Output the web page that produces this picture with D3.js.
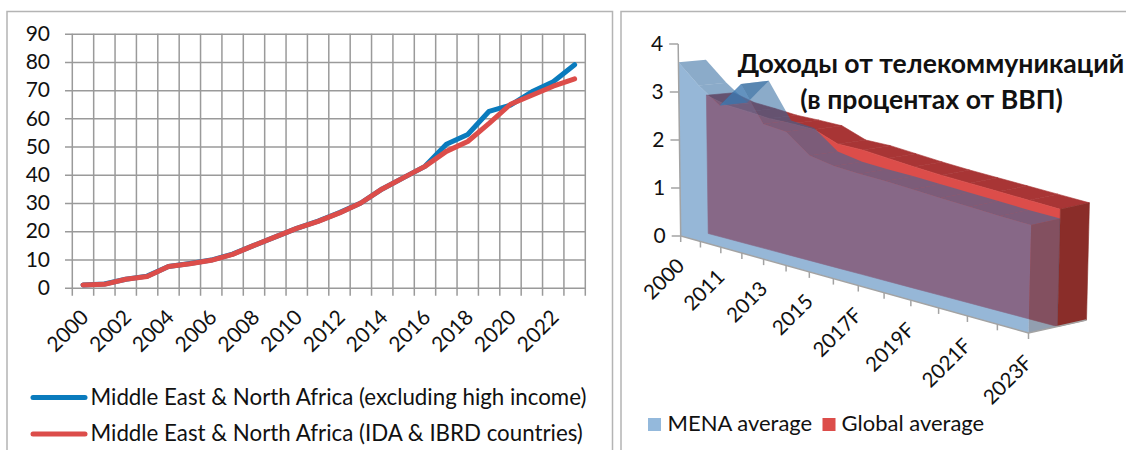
<!DOCTYPE html>
<html>
<head>
<meta charset="utf-8">
<script src="https://cdn.jsdelivr.net/npm/d3@7"></script>
<style>
  body { margin: 0; background: #fff; }
  svg { display: block; }
  text { font-family: Lato, "Noto Sans", sans-serif; fill: #111; }
</style>
</head>
<body>
<svg id="chart" width="1126" height="450"></svg>
<script>
// left chart data
const years = d3.range(2000, 2024);
const yearLabels = years.filter((y) => y % 2 === 0);
const yTicksLeft = d3.range(0, 100, 10);
const exclHighIncome = [1, 1.3, 3, 4.1, 7.5, 8.6, 9.8, 11.9, 15, 18, 21, 23.6, 26.6, 30, 35, 39, 43, 50.8, 54.3, 62.5, 64.7, 69.4, 73, 79];
const idaIbrd = [1, 1.2, 3, 4, 7.5, 8.5, 9.7, 11.8, 15, 18, 21, 23.5, 26.5, 30, 35, 39, 43, 48.3, 51.8, 58.2, 65, 68.2, 71.4, 74];
const leftLegend = ["Middle East & North Africa (excluding high income)", "Middle East & North Africa (IDA & IBRD countries)"];

// right chart data
const periods = ["2000", "2010", "2011", "2012", "2013", "2014", "2015", "2016", "2017F", "2018F", "2019F", "2020F", "2021F", "2022F", "2023F"];
const menaAverage = [3.62, 3.2, 2.86, 3.36, 2.64, 2.57, 2.2, 2.09, 2.04, 2.0, 1.95, 1.9, 1.85, 1.8, 1.76];
const globalAverage = [2.88, 2.74, 2.68, 2.61, 2.58, 2.54, 2.34, 2.31, 2.24, 2.17, 2.11, 2.06, 2.01, 1.96, 1.91];
const yTicksRight = [0, 1, 2, 3, 4];
const titleLines = ["Доходы от телекоммуникаций", "(в процентах от ВВП)"];

const svg = d3.select("#chart");
const gridColor = "#9a9a9a";
const blueLine = "#0a7bbd";
const redLine = "#dc4d4a";

// panel frames
svg.append("path").attr("d", "M7,450V11.5H612.5V450").attr("fill", "none").attr("stroke", "#b4b4b4").attr("stroke-width", 1.5);
svg.append("path").attr("d", "M621,450V11.5H1126").attr("fill", "none").attr("stroke", "#b4b4b4").attr("stroke-width", 1.5);

// ---- left line chart ----
const x = d3.scaleBand().domain(years).range([72.3, 585.3]);
const y = d3.scaleLinear().domain([0, 90]).range([287.7, 33.7]);
const left = svg.append("g");

// horizontal grid
left.append("g")
  .attr("transform", "translate(65,0)")
  .call(d3.axisLeft(y).tickValues(yTicksLeft).tickSize(-520).tickPadding(15))
  .call((g) => g.select(".domain").remove())
  .call((g) => g.selectAll("line").attr("stroke", gridColor).attr("stroke-width", 1.5))
  .call((g) => g.selectAll("text").attr("font-size", 21).style("font-family", "Lato"));

// vertical grid at band edges
left.append("g").selectAll("line")
  .data(years.concat(2024))
  .join("line")
  .attr("x1", (d, i) => x.range()[0] + i * x.step())
  .attr("x2", (d, i) => x.range()[0] + i * x.step())
  .attr("y1", y(90))
  .attr("y2", y(0) + 8)
  .attr("stroke", gridColor)
  .attr("stroke-width", 1.5);

const line = d3.line().x((d, i) => x(years[i]) + x.bandwidth() / 2).y((d) => y(d));
[[exclHighIncome, blueLine], [idaIbrd, redLine]].forEach(([values, color]) => {
  left.append("path")
    .attr("d", line(values))
    .attr("fill", "none")
    .attr("stroke", color)
    .attr("stroke-width", 5)
    .attr("stroke-linecap", "round")
    .attr("stroke-linejoin", "round");
});

left.selectAll(".year")
  .data(yearLabels)
  .join("text")
  .attr("class", "year")
  .attr("text-anchor", "end")
  .attr("font-size", 21)
  .attr("transform", (d) => `translate(${x(d) + x.bandwidth() / 2 + 7},${y(0) + 31}) rotate(-45)`)
  .text((d) => d);

leftLegend.forEach((label, i) => {
  const ly = 397.5 + i * 36.5;
  left.append("line")
    .attr("x1", 33).attr("x2", 85).attr("y1", ly).attr("y2", ly)
    .attr("stroke", i === 0 ? blueLine : redLine)
    .attr("stroke-width", 5)
    .attr("stroke-linecap", "round");
  left.append("text").attr("x", 90.5).attr("y", ly + 7).attr("font-size", 22.3).text(label);
});

// ---- right 3D area chart ----
const persp = 0.278;
const tScale = d3.scaleLinear().domain([0, periods.length - 1]).range([0, 1]);
const along = (i) => { const t = tScale(i); return t / (1 + persp * (1 - t)); };
const unitHeight = (i) => { const t = tScale(i); return 48 * (1 + persp) / (1 + persp * (1 - t)); };
const floorX = d3.scaleLinear().domain([0, 1]).range([680.7, 1028.5]);
const floorY = d3.scaleLinear().domain([0, 1]).range([236, 333]);
const depthX = d3.scaleLinear().domain([0, 1]).range([55, 58]);
const depthY = d3.scaleLinear().domain([0, 1]).range([-5, -13]);
const lean = d3.scaleLinear().domain([0, 1]).range([-0.63, 1.53]);

// category index, value, depth (0 front .. 1 back) to screen
function project(i, v, depth) {
  const u = along(i);
  return [
    floorX(u) + depthX(u) * depth + lean(u) * v,
    floorY(u) + depthY(u) * depth - unitHeight(i) * v,
  ];
}

const right = svg.append("g");
const poly = (pts, fill, opacity) => {
  const p = right.append("polygon").attr("points", pts.map((q) => q.join(",")).join(" ")).attr("fill", fill).attr("fill-opacity", opacity);
  // opaque faces get a hairline so the seams between quads do not show
  if (opacity === 1) p.attr("stroke", fill).attr("stroke-width", 0.6);
};

function drawSlab(values, d0, d1, colors, opacity) {
  const last = values.length - 1;
  // top faces
  d3.pairs(d3.range(values.length)).forEach(([a, b]) => {
    poly([project(a, values[a], d0), project(b, values[b], d0), project(b, values[b], d1), project(a, values[a], d1)], colors.top, opacity);
  });
  // front face
  const front = values.map((v, i) => project(i, v, d0));
  const base = values.map((v, i) => project(i, 0, d0)).reverse();
  poly(front.concat(base), colors.front, opacity);
  // right end
  poly([project(last, values[last], d0), project(last, values[last], d1), project(last, 0, d1), project(last, 0, d0)], colors.side, opacity);
}

// the global series sits behind the MENA series
drawSlab(globalAverage, 0.5, 1, { top: "#a83535", front: "#dc4d4a", side: "#8a2d29" }, 1);
drawSlab(menaAverage, 0, 0.5, { top: "#31699e", front: "#447fb8", side: "#3d5472" }, 0.56);

// axes
const axisColor = "#a3a3a3";
const n = periods.length - 1;
const axes = right.append("g").attr("stroke", axisColor).attr("stroke-width", 1.5).attr("fill", "none");
axes.append("path").attr("d", d3.line()([project(0, 4, 0), project(0, 0, 0), project(n, 0, 0), project(n, 0, 1)]));
periods.forEach((p, i) => {
  const [px, py] = project(i, 0, 0);
  axes.append("line").attr("x1", px).attr("x2", px).attr("y1", py).attr("y2", py + 6);
});
yTicksRight.forEach((v) => {
  const [px, py] = project(0, v, 0);
  axes.append("line").attr("x1", px - 9).attr("x2", px).attr("y1", py).attr("y2", py);
  right.append("text").attr("x", px - 15).attr("y", py + 7).attr("text-anchor", "end").attr("font-size", 21).text(v);
});

// every second category gets a label
periods.forEach((p, i) => {
  if (i % 2 !== 0) return;
  const [px, py] = project(i, 0, 0);
  right.append("text")
    .attr("text-anchor", "end")
    .attr("font-size", 20.5)
    .attr("transform", `translate(${px + 5},${py + 31}) rotate(-45)`)
    .text(p);
});

titleLines.forEach((t, i) => {
  right.append("text")
    .attr("x", i === 0 ? 931 : 931.5)
    .attr("y", 73 + i * 36)
    .attr("text-anchor", "middle")
    .attr("font-size", 26.6)
    .attr("font-weight", 700)
    .text(t);
});

[["MENA average", "#94b9dc", 648, 667.5], ["Global average", "#dc4d4a", 822.5, 841.5]].forEach(([label, color, sx, tx]) => {
  right.append("rect").attr("x", sx).attr("y", 418).attr("width", 13).attr("height", 13).attr("fill", color);
  right.append("text").attr("x", tx).attr("y", 431).attr("font-size", 22).text(label);
});
</script>
</body>
</html>
